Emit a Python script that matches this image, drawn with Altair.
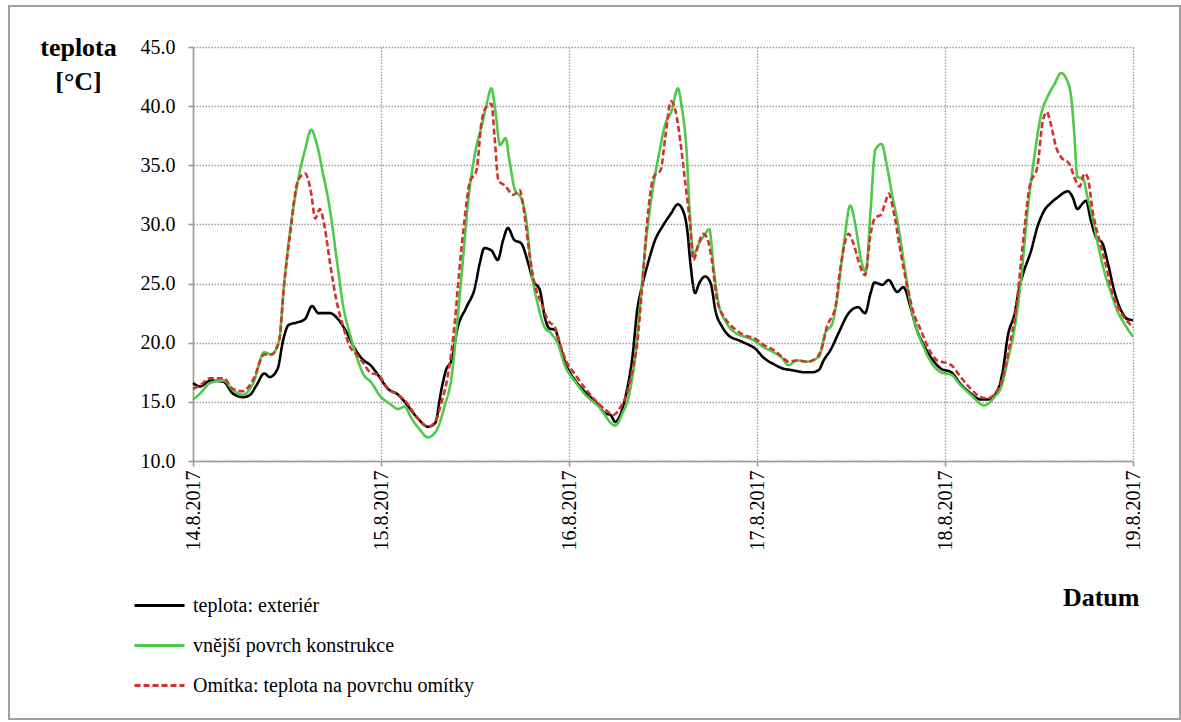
import altair as alt
import pandas as pd

# Series names, colours and dash patterns (legend order)
series_names = ["teplota: exteriér", "vnější povrch konstrukce", "Omítka: teplota na povrchu omítky"]
series_colors = ["#000000", "#4fc94a", "#d2322d"]
series_dashes = [[1, 0], [1, 0], [6, 3]]

# Date ticks on the x axis
tick_days = [14, 15, 16, 17, 18, 19]

# Hours since 14.8.2017 00:00 and temperatures [°C]
ext_hours = [0, 0.9, 2.2, 3.9, 5.1, 6.4, 7.3, 8.1, 9.1, 9.8, 10.8, 11.5, 12.2, 13.2, 14.3, 15.2, 16.0, 17.5, 18.5, 19.6, 20.5, 21.5, 22.8,
             23.6, 24.9, 26.2, 27.5, 28.7, 30.0, 30.9, 31.7, 32.3, 33.0, 33.8, 34.9, 36.0, 36.6, 37.2, 38.1, 38.9, 39.6, 40.2, 41.0, 41.9, 42.8, 43.4, 44.3, 44.9, 45.5, 46.2, 47.0,
             47.6, 48.8, 50.1, 51.4, 52.7, 53.3, 53.9, 54.6, 55.4, 56.1, 56.7, 57.3, 58.2, 59.0, 59.9, 61.0, 61.9, 62.7, 63.1, 63.5, 64.1, 64.6, 65.4, 66.1, 66.7, 67.6, 68.4, 69.7, 71.0,
             71.6, 72.9, 74.1, 75.4, 76.3, 77.1, 78.0, 79.0, 79.9, 80.5, 81.4, 82.4, 83.7, 84.9, 85.8, 86.5, 87.0, 88.0, 88.8, 89.9, 90.7, 91.6, 92.4, 93.3, 94.6,
             95.5, 96.8, 98.0, 99.3, 100.6, 101.4, 102.5, 103.4, 104.0, 104.9, 105.5, 106.1, 107.0, 107.8, 108.7, 109.5, 110.4, 111.7, 112.3, 112.9, 113.6, 114.0, 114.6, 115.3, 116.1, 116.8, 117.6, 118.5, 119.3, 120.0]
ext_values = [16.6, 16.3, 16.8, 16.7, 15.7, 15.4, 15.6, 16.4, 17.4, 17.1, 17.8, 20.2, 21.5, 21.7, 22.0, 23.1, 22.5, 22.5, 22.0, 20.9, 19.7, 18.7, 18.0,
              17.3, 16.1, 15.6, 14.6, 13.6, 12.9, 13.2, 16.0, 17.7, 18.5, 21.3, 23.0, 24.7, 26.7, 28.0, 27.8, 27.0, 28.7, 29.7, 28.7, 28.4, 26.7, 25.3, 24.4, 22.2, 21.2, 21.1, 19.4,
              18.2, 16.8, 15.8, 15.0, 14.0, 13.9, 13.3, 14.0, 16.0, 18.8, 22.7, 24.7, 27.0, 28.7, 29.8, 30.9, 31.7, 30.9, 29.5, 26.7, 24.2, 25.0, 25.6, 25.0, 22.7, 21.3, 20.6, 20.2, 19.8,
              19.6, 18.7, 18.2, 17.8, 17.7, 17.6, 17.5, 17.5, 17.7, 18.5, 19.4, 20.8, 22.5, 23.0, 22.5, 24.2, 25.1, 24.9, 25.3, 24.3, 24.7, 23.0, 21.1, 19.8, 18.4,
              17.8, 17.5, 16.5, 15.7, 15.2, 15.2, 15.7, 17.7, 20.5, 22.5, 24.7, 26.1, 27.8, 29.8, 31.2, 31.8, 32.3, 32.8, 32.3, 31.3, 31.8, 32.0, 30.4, 28.9, 28.4, 26.7, 24.4, 22.7, 22.0, 21.9]

surf_hours = [0, 0.9, 2.2, 3.9, 5.1, 6.4, 7.7, 9.1, 10.0, 11.0, 11.6, 12.4, 13.4, 14.3, 15.1, 15.8, 16.6, 17.5, 18.3, 19.2, 20.0, 20.9, 21.7, 22.8, 24.0, 25.0,
              26.2, 27.0, 27.9, 28.9, 30.0, 31.1, 32.1, 33.0, 33.8, 34.5, 35.1, 36.0, 36.8, 37.4, 38.1, 38.6, 39.2, 39.9, 40.4, 41.1, 41.9, 42.6, 43.2, 44.0, 44.9, 45.7, 46.6, 47.4,
              48.8, 50.1, 51.8, 53.9, 54.8, 55.6, 56.5, 57.1, 57.8, 58.6, 59.5, 60.3, 61.1, 61.9, 62.4, 63.0, 63.4, 63.9, 64.6, 65.3, 65.9, 66.5, 67.1, 68.0, 69.3, 70.5,
              71.6, 72.9, 74.1, 75.2, 76.0, 77.1, 78.4, 79.9, 80.7, 81.6, 82.2, 83.1, 83.9, 84.6, 85.2, 85.9, 86.5, 87.1, 87.9, 88.6, 89.3, 89.9, 90.7, 91.6, 92.4, 93.3, 94.1,
              95.5, 96.8, 98.0, 99.3, 101.0, 102.3, 103.2, 104.0, 104.9, 105.7, 106.5, 107.4, 108.3, 109.1, 110.0, 110.8, 111.5, 112.1, 112.5, 112.9, 113.6, 114.2, 114.9, 115.5, 116.3, 117.2, 118.0, 118.9, 120.0]
surf_values = [15.2, 15.7, 16.6, 16.8, 16.0, 15.6, 16.6, 19.2, 19.0, 20.2, 24.7, 29.5, 33.7, 36.3, 38.0, 36.8, 34.3, 31.2, 27.3, 23.0, 20.8, 18.8, 17.4, 16.6, 15.4, 14.9,
               14.4, 14.6, 13.6, 12.7, 12.0, 12.6, 14.6, 17.1, 22.2, 27.3, 31.8, 36.0, 38.2, 39.9, 41.5, 39.6, 36.7, 37.3, 35.4, 32.9, 32.2, 30.1, 26.1, 23.3, 21.3, 20.8, 19.9, 18.2,
               16.7, 15.6, 14.6, 13.0, 14.0, 15.4, 19.1, 23.3, 28.4, 32.6, 36.0, 38.5, 39.6, 41.5, 39.9, 36.3, 31.2, 27.5, 28.4, 29.1, 29.6, 26.1, 23.3, 21.8, 20.8, 20.5,
               20.2, 19.6, 19.2, 18.7, 18.1, 18.5, 18.4, 18.8, 20.8, 21.6, 23.6, 28.4, 31.6, 29.8, 27.3, 26.0, 31.2, 36.3, 36.8, 34.9, 32.3, 30.4, 27.0, 23.3, 21.1, 19.6, 18.5,
               17.5, 17.3, 16.4, 15.6, 14.7, 15.4, 16.3, 18.5, 21.3, 25.3, 30.9, 35.7, 39.4, 40.8, 41.9, 42.8, 42.3, 40.8, 37.7, 34.0, 33.9, 32.3, 30.4, 28.4, 26.1, 24.2, 22.7, 21.6, 20.5]

plaster_hours = [0, 0.9, 2.2, 3.9, 5.1, 6.4, 7.7, 9.1, 10.0, 11.0, 11.6, 12.4, 13.4, 14.3, 15.1, 15.6, 16.2, 16.8, 17.5, 18.3, 19.2, 20.0, 20.9, 21.7, 22.8,
                 23.6, 24.9, 26.2, 27.2, 28.7, 30.0, 30.9, 31.7, 32.5, 33.4, 34.0, 34.7, 35.3, 36.2, 36.8, 37.4, 38.1, 38.5, 39.0, 39.8, 40.9, 41.7, 42.3, 43.0, 43.6, 44.5, 45.3, 46.2, 47.0,
                 47.6, 48.8, 50.1, 51.4, 52.7, 53.7, 54.6, 55.4, 56.1, 56.7, 57.3, 58.0, 58.8, 59.7, 60.3, 61.0, 61.6, 62.2, 62.9, 63.4, 63.9, 64.4, 65.1, 65.6, 66.3, 66.9, 68.0, 69.3, 70.5,
                 71.6, 72.9, 74.1, 75.2, 76.0, 77.1, 78.4, 79.7, 80.3, 80.9, 82.0, 82.6, 83.7, 84.3, 85.2, 85.8, 86.5, 87.1, 87.8, 88.4, 88.8, 89.5, 90.3, 91.2, 92.0, 92.9, 93.7, 95.0,
                 95.5, 96.8, 98.0, 99.3, 100.6, 101.4, 102.5, 103.4, 104.2, 105.1, 105.9, 106.8, 107.8, 108.5, 109.0, 109.5, 110.2, 110.8, 111.9, 112.5, 113.2, 113.8, 114.2, 114.9, 115.7, 116.6, 117.4, 118.5, 119.3, 120.0]
plaster_values = [16.1, 16.4, 17.0, 17.0, 16.1, 15.9, 16.9, 19.0, 19.0, 20.2, 24.7, 29.2, 33.7, 34.3, 32.6, 30.5, 31.3, 29.8, 26.7, 23.6, 21.3, 19.7, 19.0, 18.3, 17.4,
                  17.3, 16.1, 15.6, 15.0, 13.6, 12.9, 13.3, 14.9, 17.1, 21.6, 26.1, 30.6, 33.5, 34.6, 38.5, 39.9, 40.2, 37.4, 33.7, 33.3, 32.5, 32.9, 30.9, 27.3, 25.0, 23.3, 21.9, 21.3, 19.6,
                  18.5, 17.3, 16.1, 15.1, 14.3, 13.9, 14.6, 15.7, 17.7, 19.9, 24.4, 30.4, 34.0, 34.6, 37.4, 40.4, 39.6, 37.1, 33.2, 30.4, 27.0, 28.0, 29.2, 28.9, 26.7, 23.6, 22.0, 21.1, 20.6,
                  20.4, 19.8, 19.4, 18.8, 18.4, 18.5, 18.4, 18.8, 19.6, 21.3, 23.0, 26.1, 29.2, 28.4, 26.4, 25.7, 29.2, 30.6, 30.8, 31.9, 32.6, 30.9, 27.8, 24.7, 22.5, 21.1, 19.8, 18.5,
                  18.4, 18.1, 17.1, 16.1, 15.4, 15.3, 15.8, 17.1, 19.6, 23.0, 28.1, 33.2, 34.9, 38.8, 39.5, 38.5, 36.5, 35.7, 35.1, 34.0, 33.2, 34.3, 34.0, 30.9, 28.7, 26.4, 24.2, 22.5, 21.8, 21.3]

start = pd.Timestamp("2017-08-14")
frames = []
for name, hrs, vals in zip(series_names,
                           [ext_hours, surf_hours, plaster_hours],
                           [ext_values, surf_values, plaster_values]):
    frames.append(pd.DataFrame({
        "cas": start + pd.to_timedelta(hrs, unit="h"),
        "teplota": vals,
        "rada": name,
    }))
df = pd.concat(frames, ignore_index=True)

FONT = "Liberation Serif"
GRID = "#9c9c9c"
AXIS = "#9a9a9a"

day_ticks = [alt.DateTime(year=2017, month=8, date=d) for d in tick_days]


def make_legend():
    return alt.Legend(orient="none", legendX=-60, legendY=532, title=None,
                      symbolType="stroke", symbolSize=2500, symbolStrokeWidth=3,
                      labelFont=FONT, labelFontSize=20, labelColor="#000",
                      labelOffset=7, rowPadding=3, padding=0, labelLimit=0)


lines = alt.Chart(df).mark_line(strokeWidth=2.6, interpolate="monotone").encode(
    x=alt.X("cas:T",
            scale=alt.Scale(domain=[day_ticks[0], day_ticks[-1]]),
            axis=alt.Axis(values=day_ticks, format="%-d.%-m.%Y", labelAngle=270,
                          tickSize=5, labelPadding=4,
                          labelFont=FONT, labelFontSize=20, labelColor="#000",
                          title="Datum", titleFont=FONT, titleFontSize=26, titleFontWeight="bold",
                          titleAlign="right", titleAnchor="end", titleX=946, titleY=144,
                          titleBaseline="alphabetic")),
    y=alt.Y("teplota:Q",
            scale=alt.Scale(domain=[10, 45], nice=False, zero=False),
            axis=alt.Axis(values=[10, 15, 20, 25, 30, 35, 40, 45], format=".1f",
                          tickSize=5, labelPadding=13,
                          labelFont=FONT, labelFontSize=20, labelColor="#000",
                          title=["teplota", "[°C]"], titleFont=FONT, titleAngle=0, titleAlign="center",
                          titleX=-115, titleY=8, titleBaseline="alphabetic",
                          titleFontSize=26, titleFontWeight="bold", titleLineHeight=34)),
    color=alt.Color("rada:N",
                    scale=alt.Scale(domain=series_names, range=series_colors),
                    legend=make_legend()),
    strokeDash=alt.StrokeDash("rada:N",
                              scale=alt.Scale(domain=series_names, range=series_dashes),
                              legend=make_legend()),
)

# Outer frame around the whole figure
frame = alt.Chart(alt.Data(values=[{}])).mark_rect(
    fillOpacity=0, stroke="#a0a0a0", strokeWidth=2
).encode(
    x=alt.value(-184), x2=alt.value(987), y=alt.value(-41), y2=alt.value(672)
)

chart = alt.layer(frame, lines).properties(
    width=940, height=414,
    padding={"left": 193, "top": 47, "right": 48, "bottom": 261},
    autosize=alt.AutoSizeParams(type="none"),
).configure(
    font=FONT, background="white"
).configure_view(
    strokeWidth=0
).configure_axis(
    labelFont=FONT, titleFont=FONT, labelColor="#000", titleColor="#000",
    domainColor=AXIS, domainWidth=1.6, tickColor=AXIS, tickWidth=1.6,
    gridColor=GRID, gridDash=[1.5, 1.5], gridWidth=1.3, grid=True,
).configure_legend(
    labelFont=FONT, labelColor="#000"
)

chart.save("out.html", embed_options={"renderer": "svg", "actions": False})
